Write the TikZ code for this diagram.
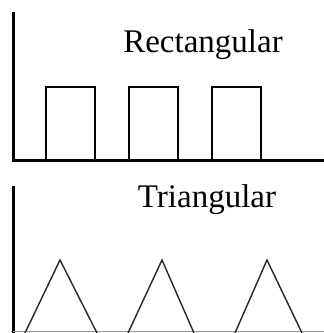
\documentclass[tikz,border=0pt]{standalone}
\usepackage{fontspec}
\setmainfont{Liberation Serif}
\begin{document}
\begin{tikzpicture}[x=1pt,y=-1pt,
  axis/.style={line width=3pt},
  pulse/.style={line width=1.4pt, black},
  wave/.style={line width=1.4pt, black!85},
  lbl/.style={font=\fontsize{33}{36}\selectfont, anchor=base, inner sep=0pt}]
\useasboundingbox (0,0) rectangle (324,333);
% top panel
\coordinate (o1) at (13,160);
\coordinate (y1) at (13,12);
\coordinate (x1) at (324,160);
\draw[axis] (y1) -- (o1) -- (x1);
\foreach \a in {46,129,212}{
  \draw[pulse] (\a,160) -- (\a,87) -- (\a+49,87) -- (\a+49,160);
}
\node[lbl] (t1) at (203,52) {Rectangular};
% bottom panel
\coordinate (o2) at (13,333);
\coordinate (y2) at (13,186);
\draw[axis] (y2) -- (o2);
\draw[line width=1.5pt, black!40] (13,331.5) -- (324,331.5);
\draw[wave] (25,333) -- (60,260) -- (97,333);
\draw[wave] (128,333) -- (162,260) -- (194,333);
\draw[wave] (235,333) -- (267,260) -- (302,333);
\node[lbl] (t2) at (207,207) {Triangular};
\end{tikzpicture}
\end{document}
